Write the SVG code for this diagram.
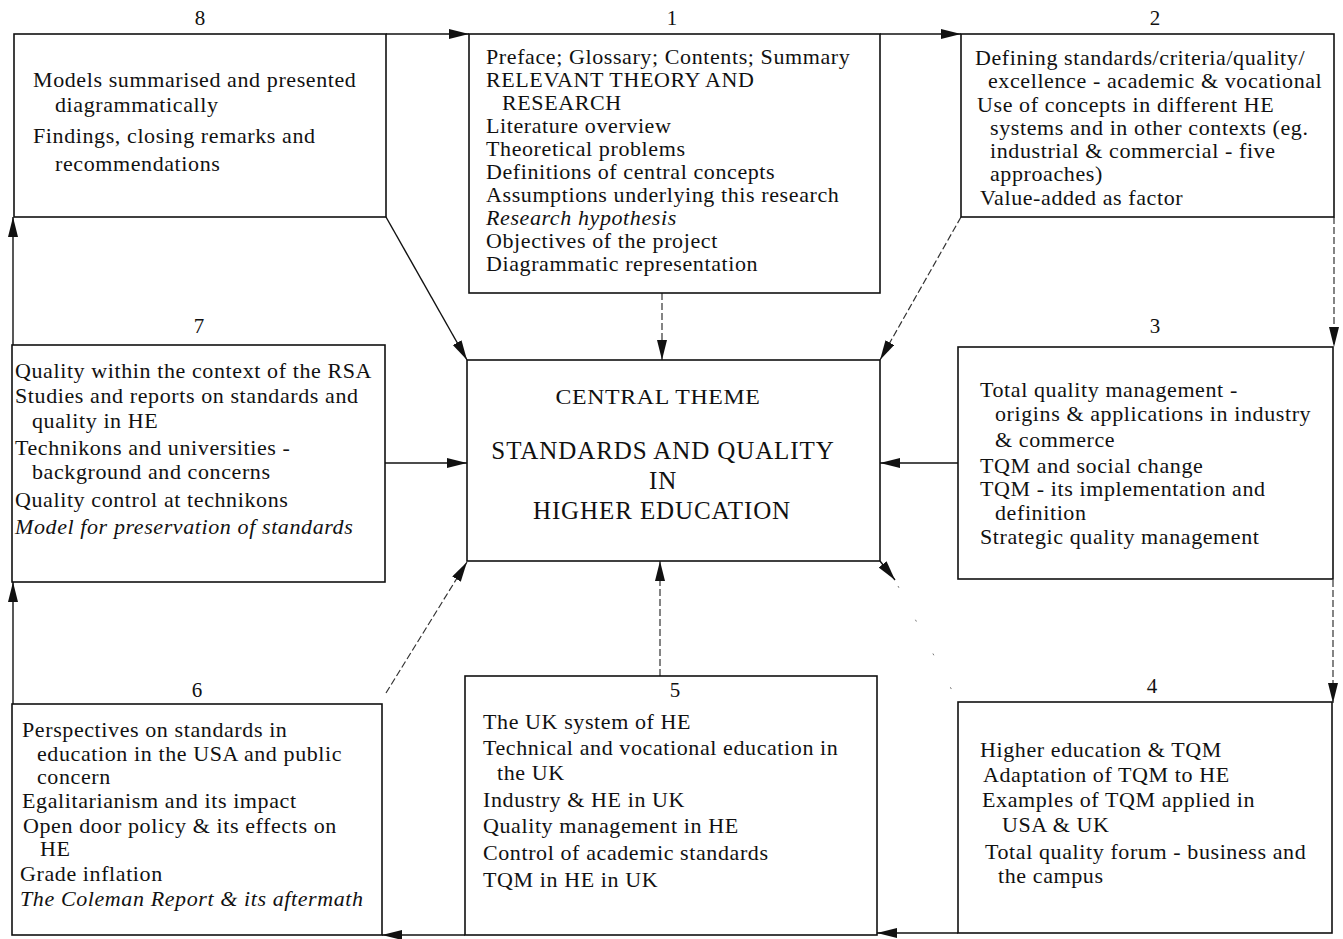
<svg xmlns="http://www.w3.org/2000/svg" width="1343" height="939" viewBox="0 0 1343 939">
<style>
.box{fill:#fff;stroke:#111;stroke-width:1.6}
.t{font-family:"Liberation Serif","Times New Roman",serif;font-size:22px;letter-spacing:0.6px;fill:#111}
.i{font-style:italic}
.num{font-family:"Liberation Serif","Times New Roman",serif;font-size:21px;fill:#111;text-anchor:middle}
.c{text-anchor:middle}
.big{font-size:25px;letter-spacing:0.9px}
.ln{stroke:#111;stroke-width:1.4;fill:none}
.dl{stroke:#333;stroke-width:1.2;fill:none;stroke-dasharray:7 3}
</style>
<defs>
<marker id="ah" markerUnits="userSpaceOnUse" markerWidth="22" markerHeight="12" refX="20" refY="5" orient="auto">
<path d="M0,0 L20,5 L0,10 z" fill="#111"/>
</marker>
</defs>
<rect width="1343" height="939" fill="#fff"/>
<g id="connectors">
<line class="ln" x1="386" y1="34" x2="469" y2="34" marker-end="url(#ah)"/>
<line class="ln" x1="880" y1="34" x2="961" y2="34" marker-end="url(#ah)"/>
<line class="dl" x1="1334" y1="217" x2="1334" y2="347" marker-end="url(#ah)"/>
<line class="dl" x1="1333" y1="580" x2="1333" y2="703" marker-end="url(#ah)"/>
<line class="ln" x1="958" y1="933" x2="877" y2="933" marker-end="url(#ah)"/>
<line class="ln" x1="465" y1="935" x2="382" y2="935" marker-end="url(#ah)"/>
<line class="ln" x1="13" y1="704" x2="13" y2="582" marker-end="url(#ah)"/>
<line class="ln" x1="13" y1="345" x2="13" y2="217" marker-end="url(#ah)"/>
<line class="ln" x1="386" y1="217" x2="467" y2="360" stroke-width="1" marker-end="url(#ah)"/>
<line class="dl" x1="662" y1="293" x2="662" y2="360" marker-end="url(#ah)"/>
<line class="dl" x1="961" y1="217" x2="880" y2="360" marker-end="url(#ah)"/>
<line class="ln" x1="385" y1="463" x2="467" y2="463" marker-end="url(#ah)"/>
<line class="ln" x1="958" y1="463" x2="880" y2="463" marker-end="url(#ah)"/>
<line class="dl" x1="386" y1="693" x2="467" y2="562" marker-end="url(#ah)"/>
<line class="dl" x1="660" y1="676" x2="660" y2="561" marker-end="url(#ah)"/>
<line class="ln" x1="880" y1="561" x2="895" y2="580" marker-end="url(#ah)"/>
<line x1="898" y1="586" x2="958" y2="702" stroke="#777" stroke-width="1" stroke-dasharray="2 36"/>
</g>
<g id="node8">
<rect class="box" x="14" y="34" width="372" height="183"/>
<text class="num" x="200" y="25">8</text>
<text class="t" x="33" y="87">Models summarised and presented</text>
<text class="t" x="55" y="112">diagrammatically</text>
<text class="t" x="33" y="143">Findings, closing  remarks and</text>
<text class="t" x="55" y="171">recommendations</text>
</g>
<g id="node1">
<rect class="box" x="469" y="34" width="411" height="259"/>
<text class="num" x="672" y="25">1</text>
<text class="t" x="486" y="64">Preface; Glossary; Contents; Summary</text>
<text class="t" x="486" y="87">RELEVANT THEORY AND</text>
<text class="t" x="502" y="110">RESEARCH</text>
<text class="t" x="486" y="133">Literature overview</text>
<text class="t" x="486" y="156">Theoretical problems</text>
<text class="t" x="486" y="179">Definitions of central concepts</text>
<text class="t" x="486" y="202">Assumptions underlying this research</text>
<text class="t i" x="486" y="225">Research hypothesis</text>
<text class="t" x="486" y="248">Objectives of the project</text>
<text class="t" x="486" y="271">Diagrammatic representation</text>
</g>
<g id="node2">
<rect class="box" x="961" y="34" width="373" height="183"/>
<text class="num" x="1155" y="25">2</text>
<text class="t" x="975" y="65">Defining standards/criteria/quality/</text>
<text class="t" x="988" y="88">excellence - academic &amp; vocational</text>
<text class="t" x="977" y="112">Use of concepts in different HE</text>
<text class="t" x="990" y="135">systems and in other contexts (eg.</text>
<text class="t" x="990" y="158">industrial &amp; commercial - five</text>
<text class="t" x="990" y="181">approaches)</text>
<text class="t" x="980" y="205">Value-added as factor</text>
</g>
<g id="node7">
<rect class="box" x="12" y="345" width="373" height="237"/>
<text class="num" x="199" y="333">7</text>
<text class="t" x="15" y="378">Quality within the context of the RSA</text>
<text class="t" x="15" y="403">Studies and reports on standards and</text>
<text class="t" x="32" y="428">quality in HE</text>
<text class="t" x="15" y="455">Technikons and universities -</text>
<text class="t" x="32" y="479">background and concerns</text>
<text class="t" x="15" y="507">Quality control at technikons</text>
<text class="t i" x="15" y="534">Model for preservation of standards</text>
</g>
<g id="central">
<rect class="box" x="467" y="360" width="413" height="201"/>
<text class="t c" x="658" y="404" textLength="205" lengthAdjust="spacingAndGlyphs">CENTRAL THEME</text>
<text class="t c big" x="663" y="459">STANDARDS AND QUALITY</text>
<text class="t c big" x="663" y="489">IN</text>
<text class="t c big" x="662" y="519">HIGHER EDUCATION</text>
</g>
<g id="node3">
<rect class="box" x="958" y="347" width="375" height="232"/>
<text class="num" x="1155" y="333">3</text>
<text class="t" x="980" y="397">Total quality management -</text>
<text class="t" x="995" y="421">origins &amp; applications in industry</text>
<text class="t" x="995" y="447">&amp; commerce</text>
<text class="t" x="980" y="473">TQM and social change</text>
<text class="t" x="980" y="496">TQM - its implementation and</text>
<text class="t" x="995" y="520">definition</text>
<text class="t" x="980" y="544">Strategic quality management</text>
</g>
<g id="node6">
<rect class="box" x="12" y="704" width="370" height="231"/>
<text class="num" x="197" y="697">6</text>
<text class="t" x="22" y="737">Perspectives on standards in</text>
<text class="t" x="37" y="761">education in the USA and public</text>
<text class="t" x="37" y="784">concern</text>
<text class="t" x="22" y="808">Egalitarianism and its impact</text>
<text class="t" x="23" y="833">Open door policy &amp; its effects on</text>
<text class="t" x="40" y="856">HE</text>
<text class="t" x="20" y="881">Grade inflation</text>
<text class="t i" x="20" y="906">The Coleman Report &amp; its aftermath</text>
</g>
<g id="node5">
<rect class="box" x="465" y="676" width="412" height="259"/>
<text class="num" x="675" y="697">5</text>
<text class="t" x="483" y="729">The UK system of HE</text>
<text class="t" x="483" y="755">Technical and vocational education in</text>
<text class="t" x="497" y="780">the UK</text>
<text class="t" x="483" y="807">Industry &amp; HE in UK</text>
<text class="t" x="483" y="833">Quality management in HE</text>
<text class="t" x="483" y="860">Control of academic standards</text>
<text class="t" x="483" y="887">TQM in HE in UK</text>
</g>
<g id="node4">
<rect class="box" x="958" y="702" width="374" height="231"/>
<text class="num" x="1152" y="693">4</text>
<text class="t" x="980" y="757">Higher education &amp; TQM</text>
<text class="t" x="983" y="782">Adaptation of TQM to HE</text>
<text class="t" x="982" y="807">Examples of TQM applied in</text>
<text class="t" x="1002" y="832">USA &amp; UK</text>
<text class="t" x="985" y="859">Total quality forum - business and</text>
<text class="t" x="998" y="883">the campus</text>
</g>
</svg>
